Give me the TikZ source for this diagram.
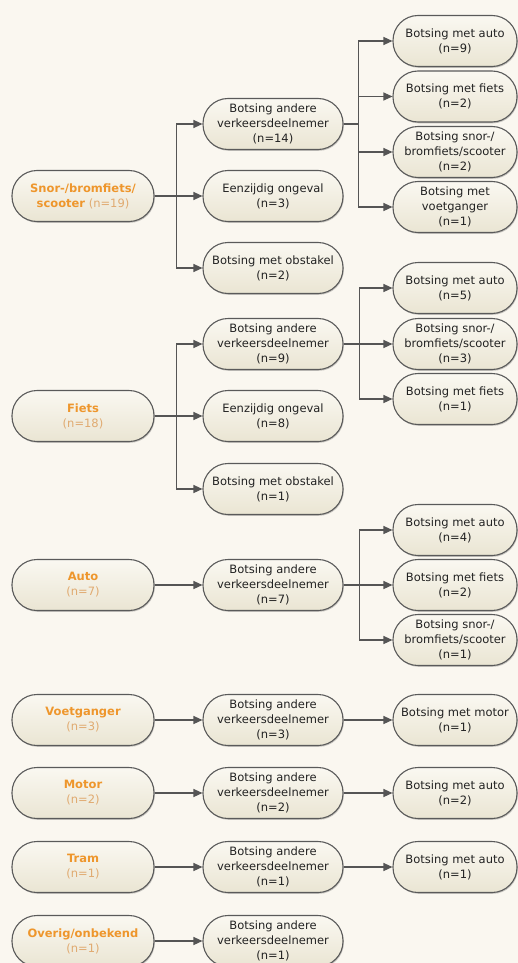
\documentclass[tikz,border=0pt]{standalone}
\usepackage{fontspec}
\setmainfont{DejaVu Sans}
\usetikzlibrary{arrows.meta,shadows}
\definecolor{bgc}{HTML}{FAF7F0}
\definecolor{fillt}{HTML}{FAF8F1}
\definecolor{fillb}{HTML}{EAE5D3}
\definecolor{bordc}{HTML}{5A5A5A}
\definecolor{arrc}{HTML}{555555}
\definecolor{textc}{HTML}{222222}
\definecolor{orc}{HTML}{EE962C}
\definecolor{cntc}{HTML}{E0AA70}
\newcommand{\hd}[1]{\textbf{\color{orc}#1}}
\newcommand{\cn}[1]{{\color{cntc}#1}}
\begin{document}
\begin{tikzpicture}[x=1pt,y=-1pt,
  box/.style={draw=bordc, line width=1.1pt, rounded corners=25pt,
    top color=fillt, bottom color=fillb, minimum height=51pt, inner sep=0pt,
    align=center, text=textc, font=\fontsize{11.5}{15}\selectfont,
    drop shadow={shadow xshift=0.8pt, shadow yshift=-1.3pt, opacity=.3, fill=black!70}},
  cone/.style={box, minimum width=142pt},
  ctwo/.style={box, minimum width=140pt},
  cthree/.style={box, minimum width=124pt},
  arr/.style={draw=arrc, line width=1.2pt, -{Triangle[length=9pt,width=8pt]}}]
\fill[bgc] (0,0) rectangle (518,963);
\clip (0,0) rectangle (518,963);
% group 1
\node[cone] (s1) at (83,196) {\hd{Snor-/bromfiets/}\\\hd{scooter} \cn{(n=19)}};
\node[ctwo] (a1) at (273,124) {Botsing andere\\verkeersdeelnemer\\(n=14)};
\node[ctwo] (e1) at (273,196) {Eenzijdig ongeval\\(n=3)};
\node[ctwo] (o1) at (273,268) {Botsing met obstakel\\(n=2)};
\node[cthree] (r11) at (455,41) {Botsing met auto\\(n=9)};
\node[cthree] (r12) at (455,96.5) {Botsing met fiets\\(n=2)};
\node[cthree] (r13) at (455,152) {Botsing snor-/\\bromfiets/scooter\\(n=2)};
\node[cthree] (r14) at (455,207) {Botsing met\\voetganger\\(n=1)};
% group 2
\node[cone] (s2) at (83,416) {\hd{Fiets}\\\cn{(n=18)}};
\node[ctwo] (a2) at (273,344) {Botsing andere\\verkeersdeelnemer\\(n=9)};
\node[ctwo] (e2) at (273,416) {Eenzijdig ongeval\\(n=8)};
\node[ctwo] (o2) at (273,489) {Botsing met obstakel\\(n=1)};
\node[cthree] (r21) at (455,288) {Botsing met auto\\(n=5)};
\node[cthree] (r22) at (455,344) {Botsing snor-/\\bromfiets/scooter\\(n=3)};
\node[cthree] (r23) at (455,399) {Botsing met fiets\\(n=1)};
% group 3
\node[cone] (s3) at (83,585) {\hd{Auto}\\\cn{(n=7)}};
\node[ctwo] (a3) at (273,585) {Botsing andere\\verkeersdeelnemer\\(n=7)};
\node[cthree] (r31) at (455,530) {Botsing met auto\\(n=4)};
\node[cthree] (r32) at (455,585) {Botsing met fiets\\(n=2)};
\node[cthree] (r33) at (455,640) {Botsing snor-/\\bromfiets/scooter\\(n=1)};
% rows
\node[cone] (s4) at (83,720) {\hd{Voetganger}\\\cn{(n=3)}};
\node[ctwo] (a4) at (273,720) {Botsing andere\\verkeersdeelnemer\\(n=3)};
\node[cthree] (r41) at (455,720) {Botsing met motor\\(n=1)};
\node[cone] (s5) at (83,793) {\hd{Motor}\\\cn{(n=2)}};
\node[ctwo] (a5) at (273,793) {Botsing andere\\verkeersdeelnemer\\(n=2)};
\node[cthree] (r51) at (455,793) {Botsing met auto\\(n=2)};
\node[cone] (s6) at (83,867) {\hd{Tram}\\\cn{(n=1)}};
\node[ctwo] (a6) at (273,867) {Botsing andere\\verkeersdeelnemer\\(n=1)};
\node[cthree] (r61) at (455,867) {Botsing met auto\\(n=1)};
\node[cone] (s7) at (83,941) {\hd{Overig/onbekend}\\\cn{(n=1)}};
\node[ctwo] (a7) at (273,941) {Botsing andere\\verkeersdeelnemer\\(n=1)};
% connectors
\foreach \t in {a1,e1,o1} \draw[arr] (s1.east) -- ++(22,0) |- (\t.west);
\foreach \t in {r11,r12,r13,r14} \draw[arr] (a1.east) -- ++(15,0) |- (\t.west);
\foreach \t in {a2,e2,o2} \draw[arr] (s2.east) -- ++(22,0) |- (\t.west);
\foreach \t in {r21,r22,r23} \draw[arr] (a2.east) -- ++(16,0) |- (\t.west);
\draw[arr] (s3.east) -- (a3.west);
\foreach \t in {r31,r32,r33} \draw[arr] (a3.east) -- ++(16,0) |- (\t.west);
\draw[arr] (s4.east) -- (a4.west);
\draw[arr] (a4.east) -- (r41.west);
\draw[arr] (s5.east) -- (a5.west);
\draw[arr] (a5.east) -- (r51.west);
\draw[arr] (s6.east) -- (a6.west);
\draw[arr] (a6.east) -- (r61.west);
\draw[arr] (s7.east) -- (a7.west);
\end{tikzpicture}
\end{document}
